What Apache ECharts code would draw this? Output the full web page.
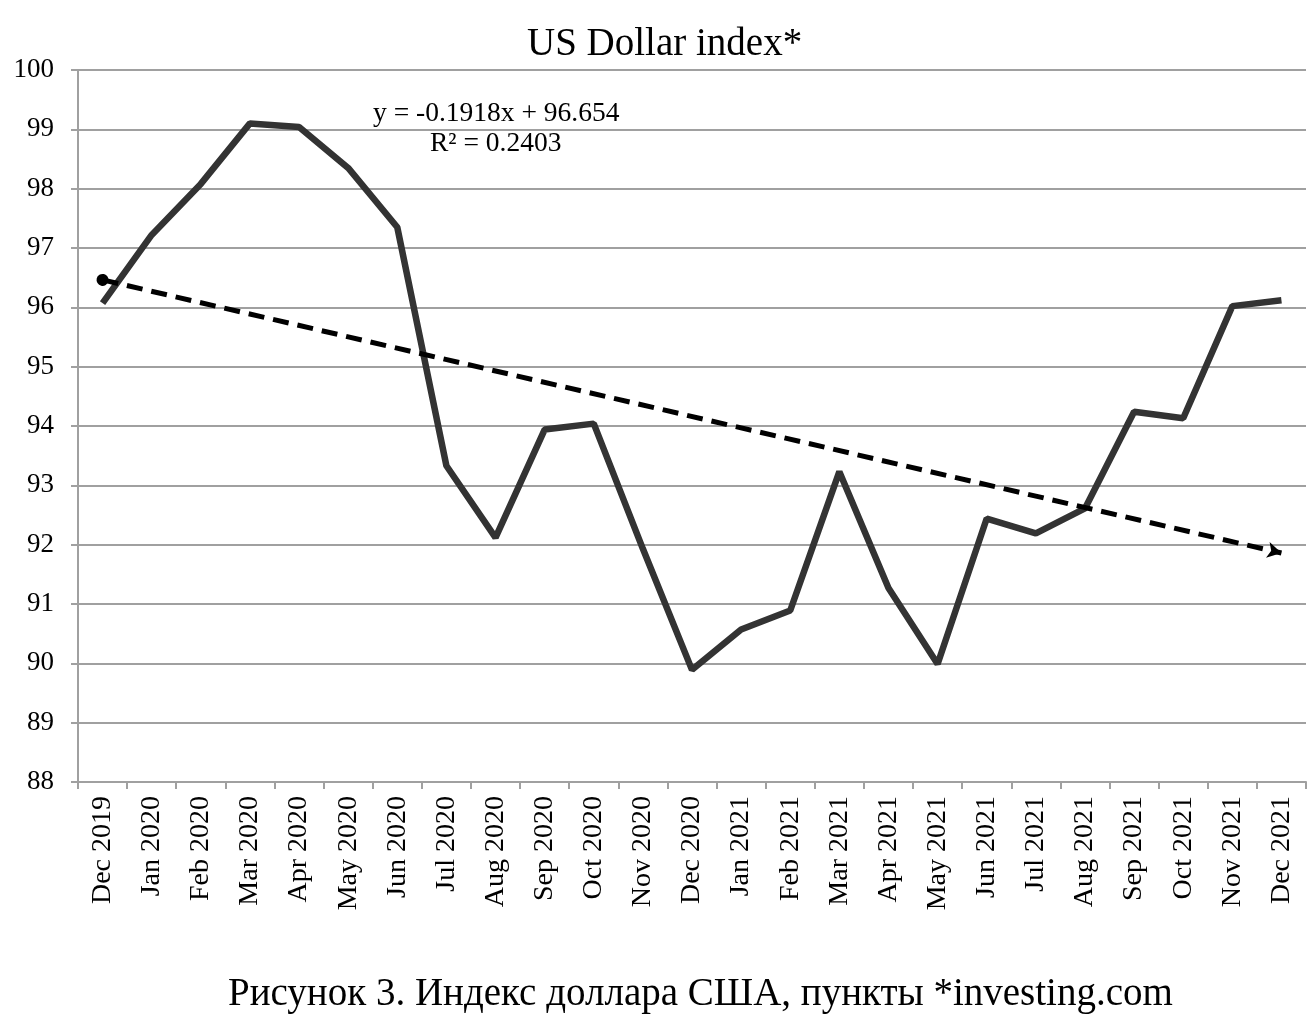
<!DOCTYPE html>
<html>
<head>
<meta charset="utf-8">
<script src="https://cdn.jsdelivr.net/npm/echarts@6/dist/echarts.min.js"></script>
<style>html,body{margin:0;padding:0;background:#fff}#c{width:1311px;height:1032px}</style>
</head>
<body>
<div id="c"></div>
<script>
const categories = ['Dec 2019','Jan 2020','Feb 2020','Mar 2020','Apr 2020','May 2020','Jun 2020','Jul 2020','Aug 2020','Sep 2020','Oct 2020','Nov 2020','Dec 2020','Jan 2021','Feb 2021','Mar 2021','Apr 2021','May 2021','Jun 2021','Jul 2021','Aug 2021','Sep 2021','Oct 2021','Nov 2021','Dec 2021'];
const values = [96.07,97.22,98.08,99.10,99.04,98.35,97.35,93.33,92.12,93.94,94.04,91.93,89.89,90.57,90.89,93.23,91.27,89.99,92.44,92.19,92.61,94.24,94.13,96.02,96.12];
const trendSlope = -0.1918;
const trendIntercept = 96.654;
const yTicks = [88,89,90,91,92,93,94,95,96,97,98,99,100];

const trend = categories.map((c,i)=> +(trendSlope*(i+1)+trendIntercept).toFixed(4));
const font = '"Liberation Serif", "Times New Roman", serif';

const chart = echarts.init(document.getElementById('c'));
chart.setOption({
  animation:false,
  backgroundColor:'#fff',
  title:{text:'US Dollar index*',left:522,top:20,textStyle:{fontFamily:font,fontSize:39,fontWeight:'normal',color:'#000'}},
  grid:{left:78,right:5,top:70,bottom:250},
  xAxis:{type:'category',data:categories,boundaryGap:true,
    axisLine:{lineStyle:{color:'#a0a0a0',width:2}},
    axisTick:{show:true,length:7,lineStyle:{color:'#a0a0a0',width:2}},
    axisLabel:{rotate:90,interval:0,fontFamily:font,fontSize:28,color:'#000',margin:14}},
  yAxis:{type:'value',min:yTicks[0],max:yTicks[yTicks.length-1],interval:1,
    axisLine:{show:true,lineStyle:{color:'#a0a0a0',width:2}},
    axisTick:{show:true,length:7,lineStyle:{color:'#a0a0a0',width:2}},
    splitLine:{lineStyle:{color:'#a0a0a0',width:2}},
    axisLabel:{fontFamily:font,fontSize:27,color:'#000',margin:24}},
  graphic:[
    {type:'text',left:373,top:100,style:{text:'y = -0.1918x + 96.654',font:'27.5px '+font,fill:'#000'}},
    {type:'text',left:430,top:130,style:{text:'R² = 0.2403',font:'27.5px '+font,fill:'#000'}},
    {type:'text',left:228,top:975,style:{text:'Рисунок 3. Индекс доллара США, пункты *investing.com',font:'39px '+font,fill:'#000'}}
  ],
  series:[
    {type:'line',data:values,showSymbol:false,symbol:'none',lineStyle:{color:'#333',width:6.5},z:3},
    {type:'line',data:trend,showSymbol:false,symbol:'none',lineStyle:{width:0,opacity:0},z:4,
     markLine:{silent:true,symbol:['circle','arrow'],symbolSize:[12,14],
       label:{show:false},
       lineStyle:{color:'#000',width:5,type:[16,9]},
       data:[[{coord:[0,trend[0]]},{coord:[categories.length-1,trend[trend.length-1]]}]]}}
  ]
});
</script>
</body>
</html>
